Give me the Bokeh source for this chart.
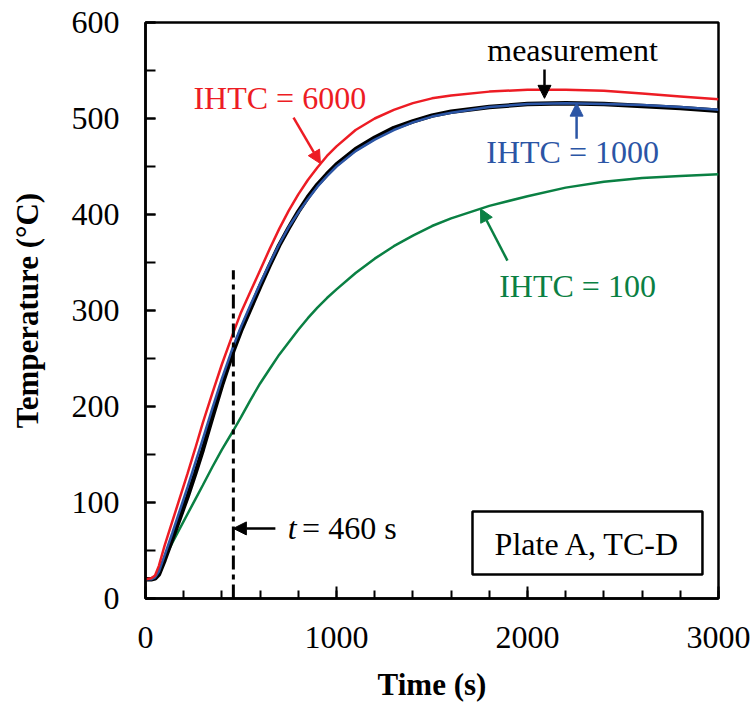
from bokeh.plotting import figure
from bokeh.models import Arrow, NormalHead, Range1d, ColumnDataSource, FixedTicker
from bokeh.core.properties import value
from bokeh.embed import file_html
from bokeh.resources import INLINE

# ---- data ----
time_s = [0, 30, 50, 70, 100, 140, 180, 220, 260, 300, 350, 400, 460, 500, 550, 600,
          650, 700, 750, 800, 850, 900, 950, 1000, 1100, 1200, 1300, 1400, 1500, 1600,
          1800, 2000, 2200, 2400, 2600, 2800, 3000]
ihtc_6000 = [20, 21, 24, 34, 55, 80, 105, 130, 156, 183, 214, 244, 277, 298, 320, 342,
             364, 385, 404, 421, 436, 449, 461, 471, 488, 500, 509, 516, 521, 524,
             528, 530, 530, 529, 526, 523, 520]
measurement = [20, 20, 21, 25, 40, 62, 84, 106, 130, 155, 189, 222, 258, 279, 302, 325,
               347, 368, 386, 403, 418, 431, 442, 452, 468, 480, 490, 497, 503, 507,
               512, 515, 516, 515, 513, 511, 508]
ihtc_1000 = [20, 20, 22, 28, 45, 68, 92, 116, 141, 166, 198, 229, 263, 283, 306, 328,
             349, 369, 387, 402, 416, 429, 440, 450, 466, 478, 488, 496, 502, 506,
             512, 515, 516, 515, 514, 512, 509]
ihtc_100 = [20, 20, 22, 28, 42, 58, 73, 88, 103, 118, 137, 155, 175, 189, 207, 224,
            239, 254, 267, 280, 292, 303, 313, 322, 339, 354, 367, 378, 388, 396,
            409, 419, 428, 434, 438, 440, 442]

x_ticks = [0, 1000, 2000, 3000]
y_ticks = [0, 100, 200, 300, 400, 500, 600]
t_mark = 460
t_mark_top = 342

RED = "#ED1C24"
BLUE = "#2B55A5"
GREEN = "#0A8043"
FONT = "Liberation Serif"

p = figure(width=752, height=717, output_backend="svg", toolbar_location=None,
           x_range=Range1d(0, 3000), y_range=Range1d(0, 600),
           min_border_left=145, min_border_right=34, min_border_top=22, min_border_bottom=119)
p.grid.visible = False
p.outline_line_color = "black"
p.outline_line_width = 2.5
p.background_fill_color = "white"
p.border_fill_color = "white"

for ax in (p.xaxis[0], p.yaxis[0]):
    ax.axis_line_width = 2.5
    ax.major_tick_line_width = 2
    ax.minor_tick_line_width = 2
    ax.major_tick_out = 0
    ax.minor_tick_out = 0
    ax.major_label_text_font = FONT
    ax.major_label_text_font_size = "32px"
    ax.major_label_text_color = "black"
    ax.axis_label_text_font = FONT
    ax.axis_label_text_font_size = "31px"
    ax.axis_label_text_font_style = "bold"
    ax.axis_label_text_color = "black"

p.xaxis.ticker = FixedTicker(ticks=x_ticks, minor_ticks=list(range(0, 3001, 200)))
p.yaxis.ticker = FixedTicker(ticks=y_ticks, minor_ticks=list(range(0, 601, 50)))
p.xaxis.major_tick_in = 12
p.xaxis.minor_tick_in = 8
p.yaxis.major_tick_in = 10
p.yaxis.minor_tick_in = 10
p.xaxis.axis_label = "Time (s)"
p.yaxis.axis_label = "Temperature (°C)"
p.xaxis.major_label_standoff = 28
p.yaxis.major_label_standoff = 26
p.xaxis.axis_label_standoff = 16
p.yaxis.axis_label_standoff = 24

src = ColumnDataSource(dict(t=time_s, r=ihtc_6000, m=measurement, b=ihtc_1000, g=ihtc_100))
p.line("t", "g", source=src, line_color=GREEN, line_width=2.5)
p.line("t", "m", source=src, line_color="black", line_width=4.5)
p.line("t", "b", source=src, line_color=BLUE, line_width=2.5)
p.line("t", "r", source=src, line_color=RED, line_width=2.5)

# dashed marker line at t = 460 s
p.line([t_mark, t_mark], [0, t_mark_top], line_color="black", line_width=3, line_dash="14 5 5 5")

def arrow(x0, y0, x1, y1, color):
    p.add_layout(Arrow(end=NormalHead(size=13, fill_color=color, line_color=color),
                       x_start=x0, y_start=y0, x_end=x1, y_end=y1,
                       line_color=color, line_width=2.5))

arrow(775, 501, 916, 453, RED)
arrow(2089, 551, 2089, 521, "black")
arrow(2257, 479, 2257, 516, BLUE)
arrow(1895, 352, 1754, 406, GREEN)
arrow(680, 73, 460, 73, "black")

def label(x, y, txt, color, align="center", style="normal", size="32px"):
    p.text(x=[x], y=[y], text=[txt], text_color=color, text_font=value(FONT),
           text_font_size=size, text_align=align, text_baseline="middle",
           text_font_style=style)

label(251, 521, "IHTC = 6000", RED, align="left")
label(2236, 571, "measurement", "black")
label(2236, 465, "IHTC = 1000", BLUE)
label(2262, 326, "IHTC = 100", GREEN)
label(745, 73, "t", "black", align="left", style="italic")
label(820, 73, "= 460 s", "black", align="left")

# label box
p.quad(left=[1712], right=[2916], bottom=[25], top=[90.6], fill_color="white",
       line_color="black", line_width=2.5)
label(2314, 57, "Plate A, TC-D", "black")

open("out.html", "w").write(file_html(p, INLINE))
